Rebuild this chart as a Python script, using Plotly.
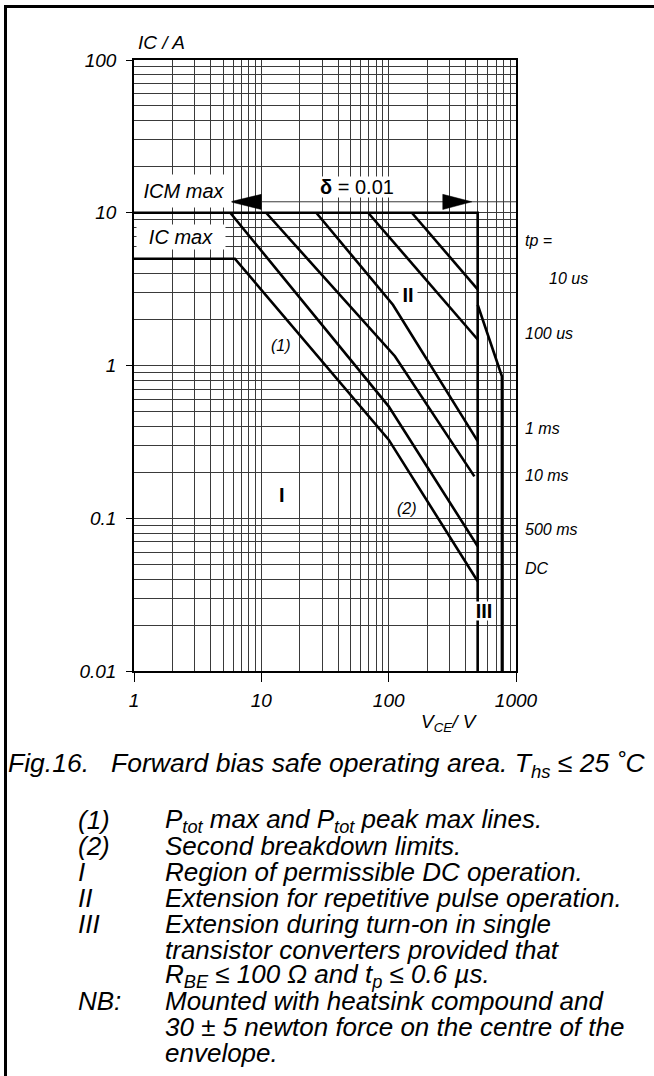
import plotly.graph_objects as go

# ---------------- data ----------------
x_ticks = [1, 10, 100, 1000]
x_tick_labels = ["1", "10", "100", "1000"]
y_ticks = [0.01, 0.1, 1, 10, 100]
y_tick_labels = ["0.01", "0.1", "1", "10", "100"]

# boundary ICM max -> VCEO vertical
icm_v = [1, 500, 500]
icm_i = [10, 10, 0.01]
# DC line (IC max, Ptot, second breakdown)
dc_v = [1, 6.2, 100, 500]
dc_i = [5, 5, 0.327, 0.0387]
# pulse lines
ms500_v = [5.7, 100, 500]
ms500_i = [10, 0.54, 0.0656]
ms10_v = [10.9, 112, 471]
ms10_i = [10, 1.15, 0.188]
ms1_v = [27, 108, 500]
ms1_i = [10, 2.5, 0.32]
us100_v = [69, 500]
us100_i = [10, 1.48]
us10_v = [152, 500]
us10_i = [10, 3.15]
# region III extension
iii_v = [500, 775, 775]
iii_i = [2.5, 0.85, 0.01]
# delta = 0.01 dimension arrows
dim_v = [10, 1000]
dim_i = [11.8, 11.8]
arrow_l_v = [5.7, 10, 10, 5.7]
arrow_l_i = [11.8, 13.2, 10.5, 11.8]
arrow_r_v = [450, 266, 266, 450]
arrow_r_i = [11.8, 13.2, 10.5, 11.8]

pulse_labels = ["tp =", "10 us", "100 us", "1 ms", "10 ms", "500 ms", "DC"]

caption = "Fig.16.\u00a0\u00a0\u00a0Forward bias safe operating area. T<sub>hs</sub> \u2264 25 \u02daC"
notes_key = ["(1)", "(2)", "I", "II", "III", "", "", "NB:", "", ""]
notes_text = [
    "P<sub>tot</sub> max and P<sub>tot</sub> peak max lines.",
    "Second breakdown limits.",
    "Region of permissible DC operation.",
    "Extension for repetitive pulse operation.",
    "Extension during turn-on in single",
    "transistor converters provided that",
    "R<sub>BE</sub> \u2264 100\u00a0\u03a9 and t<sub>p</sub> \u2264 0.6 \u00b5s.",
    "Mounted with heatsink compound and",
    "30\u00a0\u00b1 5 newton force on the centre of the",
    "envelope.",
]

# ---------------- layout helpers ----------------
W, H = 654, 1076
L, R, T, B = 134, 138, 60, 405
PW, PH = W - L - R, H - T - B


def px(x):
    return (x - L) / PW


def py(y):
    return (H - B - y) / PH


FONT = "Liberation Sans, Arial, sans-serif"
BLACK = "#000000"
GRID = "#3a3a3a"

fig = go.Figure()

thick = dict(color=BLACK, width=2.6)
for v, i in [(icm_v, icm_i), (dc_v, dc_i), (ms500_v, ms500_i), (ms10_v, ms10_i),
             (ms1_v, ms1_i), (us100_v, us100_i), (us10_v, us10_i), (iii_v, iii_i)]:
    fig.add_trace(go.Scatter(x=v, y=i, mode="lines", line=thick,
                             showlegend=False, hoverinfo="skip"))

fig.add_trace(go.Scatter(x=dim_v, y=dim_i, mode="lines",
                         line=dict(color=GRID, width=1), showlegend=False, hoverinfo="skip"))
for v, i in [(arrow_l_v, arrow_l_i), (arrow_r_v, arrow_r_i)]:
    fig.add_trace(go.Scatter(x=v, y=i, mode="lines", fill="toself", fillcolor=BLACK,
                             line=dict(color=BLACK, width=0.5), showlegend=False,
                             hoverinfo="skip"))

minor_x = [m * 10 ** d for d in range(0, 3) for m in range(2, 10)]
minor_y = [m * 10.0 ** d for d in range(-2, 2) for m in range(2, 10)]

fig.update_xaxes(
    type="log", range=[0, 3],
    tickvals=x_ticks, ticktext=["<i>%s</i>" % t for t in x_tick_labels],
    ticks="outside", ticklen=9, tickwidth=1, tickcolor=BLACK,
    tickfont=dict(family=FONT, size=19, color=BLACK),
    showgrid=True, gridcolor=GRID, gridwidth=1,
    minor=dict(tickvals=minor_x, showgrid=True, gridcolor=GRID, gridwidth=1, ticks=""),
    showline=True, linecolor=BLACK, linewidth=1.5, mirror=True,
    zeroline=False, ticklabelstandoff=2,
)
fig.update_yaxes(
    type="log", range=[-2, 2],
    tickvals=y_ticks, ticktext=["<i>%s</i>" % t for t in y_tick_labels],
    ticks="outside", ticklen=6, tickwidth=1, tickcolor=BLACK,
    tickfont=dict(family=FONT, size=19, color=BLACK),
    showgrid=True, gridcolor=GRID, gridwidth=1,
    minor=dict(tickvals=minor_y, showgrid=True, gridcolor=GRID, gridwidth=1, ticks=""),
    showline=True, linecolor=BLACK, linewidth=1.5, mirror=True,
    zeroline=False, ticklabelstandoff=6,
)

ann = []


def add(text, x, y, size, xanchor="left", yanchor="middle", bg=None, w=None, h=None,
        pad=0):
    d = dict(text=text, x=px(x), y=py(y), xref="paper", yref="paper",
             xanchor=xanchor, yanchor=yanchor, showarrow=False,
             font=dict(family=FONT, size=size, color=BLACK), borderpad=pad)
    if bg:
        d["bgcolor"] = bg
    if w:
        d["width"] = w
    if h:
        d["height"] = h
    ann.append(d)


# axis titles
add("<i>IC / A</i>", 137, 43, 19)
add("<i>V<sub>CE</sub>/ V</i>", 420, 723, 19)

# label boxes
add("<i>ICM max</i>", 184, 191, 20, xanchor="center", bg="white", w=94, h=32)
add("<i>IC max</i>", 181, 237, 20, xanchor="center", bg="white", w=88, h=24)
add("<b>\u03b4</b> = 0.01", 357, 187, 20, xanchor="center", bg="white", w=76, h=20)

# region numerals
add("<b>I</b>", 282, 495, 20, xanchor="center")
add("<b>II</b>", 408, 295, 20, xanchor="center", bg="white", w=18, h=18)
add("<b>III</b>", 484, 611, 20, xanchor="center", bg="white", w=16, h=18)
add("<i>(1)</i>", 281, 345, 16, xanchor="center")
add("<i>(2)</i>", 407, 508, 16, xanchor="center")

# pulse-duration labels at right
pl_pos = [(524, 240), (548, 278), (524, 334), (524, 428), (524, 475), (524, 529), (524, 568)]
for t, (x, y) in zip(pulse_labels, pl_pos):
    add("<i>%s</i>" % t, x, y, 16)

# caption
add("<i>%s</i>" % caption, 7, 765, 26.5)
for k, (key, txt) in enumerate(zip(notes_key, notes_text)):
    y = 820 + 25.9 * k
    if key:
        add("<i>%s</i>" % key, 77, y, 26)
    add("<i>%s</i>" % txt, 164, y, 26)

# outer frame (left and top borders)
shapes = [
    dict(type="line", xref="paper", yref="paper", x0=px(5.5), x1=px(5.5),
         y0=py(5.5), y1=py(H + 5), line=dict(color=BLACK, width=3)),
    dict(type="line", xref="paper", yref="paper", x0=px(4), x1=px(W + 5),
         y0=py(6.5), y1=py(6.5), line=dict(color=BLACK, width=3)),
]

fig.update_layout(
    width=W, height=H,
    margin=dict(l=L, r=R, t=T, b=B, pad=0),
    paper_bgcolor="white", plot_bgcolor="white",
    annotations=ann, shapes=shapes, showlegend=False,
)

fig.write_html("out.html",
               config={"displayModeBar": False},
               post_script="document.body.style.margin='0px';"
                           "document.body.style.overflow='hidden';")
